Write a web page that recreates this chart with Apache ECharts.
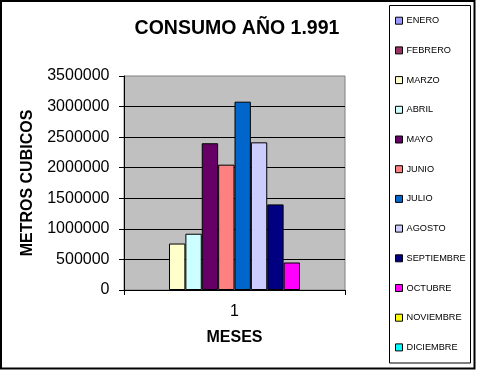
<!DOCTYPE html>
<html>
<head>
<meta charset="utf-8">
<script src="https://cdn.jsdelivr.net/npm/echarts@6/dist/echarts.min.js"></script>
<style>
html,body{margin:0;padding:0;background:#fff;}
#c{width:477px;height:370px;}
</style>
</head>
<body>
<div id="c"></div>
<script>
const categories = ['1'];
const months = ['ENERO','FEBRERO','MARZO','ABRIL','MAYO','JUNIO','JULIO','AGOSTO','SEPTIEMBRE','OCTUBRE','NOVIEMBRE','DICIEMBRE'];
const values = [null, null, 760000, 920000, 2400000, 2050000, 3080000, 2415000, 1400000, 450000, null, null];
const colors = ['#9999FF','#993366','#FFFFCC','#CCFFFF','#660066','#FF8080','#0066CC','#CCCCFF','#000080','#FF00FF','#FFFF00','#00FFFF'];
const yTicks = { min: 0, max: 3500000, interval: 500000 };

const FONT = "'Liberation Sans', Arial, sans-serif";
const chart = echarts.init(document.getElementById('c'), null, { renderer: 'canvas' });

const series = months.map((m, i) => ({
  name: m,
  type: 'bar',
  data: [values[i]],
  barGap: '0%',
  barCategoryGap: '11.1%',
  itemStyle: { color: colors[i], borderColor: '#000', borderWidth: 1 },
  emphasis: { disabled: true },
  silent: true
}));

chart.setOption({
  animation: false,
  backgroundColor: '#fff',
  textStyle: { fontFamily: FONT },
  title: {
    text: 'CONSUMO AÑO 1.991',
    left: 237, top: 19, textAlign: 'center', padding: 0,
    textStyle: { fontFamily: FONT, fontWeight: 'bold', fontSize: 19.5, color: '#000' }
  },
  legend: {
    data: months,
    orient: 'vertical',
    left: 395, top: 14.7,
    padding: 0,
    itemGap: 17.7,
    itemWidth: 7, itemHeight: 7,
    icon: 'rect',
    itemStyle: { borderColor: '#000', borderWidth: 1 },
    selectedMode: false,
    textStyle: { fontFamily: FONT, fontSize: 9.2, lineHeight: 12, color: '#000', padding: [0, 0, 0, -1] }
  },
  grid: {
    left: 124, top: 76, width: 221, height: 214,
    show: true, backgroundColor: '#C0C0C0', borderColor: '#808080', borderWidth: 1
  },
  xAxis: {
    type: 'category',
    data: categories,
    axisLine: { show: true, lineStyle: { color: '#000', width: 1 } },
    axisTick: { show: true, length: 5, alignWithLabel: false, lineStyle: { color: '#000' } },
    axisLabel: { fontSize: 16, color: '#000', margin: 14, fontFamily: FONT },
    splitLine: { show: false },
    name: 'MESES', nameLocation: 'middle', nameGap: 40,
    nameTextStyle: { fontFamily: FONT, fontWeight: 'bold', fontSize: 16, color: '#000' }
  },
  yAxis: {
    type: 'value',
    min: yTicks.min, max: yTicks.max, interval: yTicks.interval,
    axisLine: { show: true, lineStyle: { color: '#000', width: 1 } },
    axisTick: { show: true, length: 5, lineStyle: { color: '#000' } },
    axisLabel: { fontSize: 16, color: '#000', margin: 14.5, fontFamily: FONT, formatter: v => String(v) },
    splitLine: { show: true, showMaxLine: false, lineStyle: { color: '#000', width: 1 } },
    name: 'METROS CUBICOS', nameLocation: 'middle', nameGap: 88, nameRotate: 90,
    nameTextStyle: { fontFamily: FONT, fontWeight: 'bold', fontSize: 16, color: '#000' }
  },
  graphic: [
    { type: 'rect', shape: { x: 1, y: 1, width: 473.5, height: 367.5 }, style: { fill: null, stroke: '#000', lineWidth: 2 }, silent: true, z: 100 },
    { type: 'rect', shape: { x: 389.5, y: 5.5, width: 81, height: 357.5 }, style: { fill: null, stroke: '#000', lineWidth: 1 }, silent: true, z: 100 }
  ],
  series: series
});
</script>
</body>
</html>
